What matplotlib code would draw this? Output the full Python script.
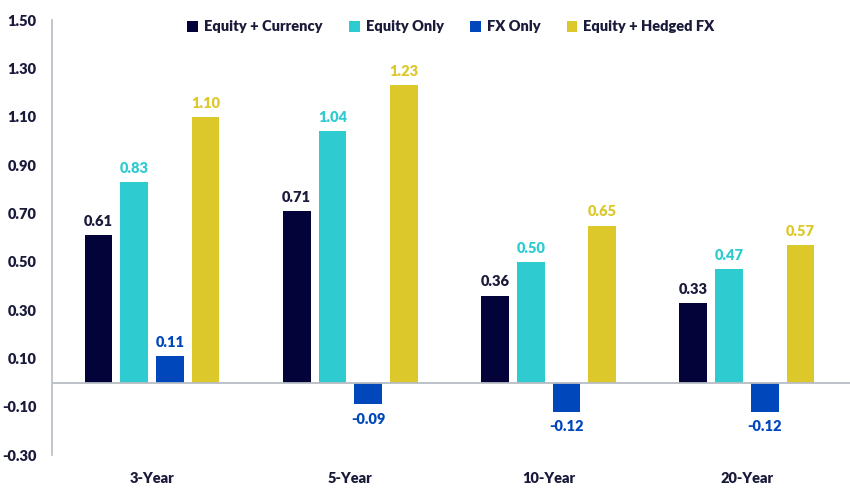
import numpy as np
import matplotlib.pyplot as plt

periods = ["3-Year", "5-Year", "10-Year", "20-Year"]
series_names = ["Equity + Currency", "Equity Only", "FX Only", "Equity + Hedged FX"]
equity_currency = [0.61, 0.71, 0.36, 0.33]
equity_only = [0.83, 1.04, 0.50, 0.47]
fx_only = [0.11, -0.09, -0.12, -0.12]
equity_hedged = [1.10, 1.23, 0.65, 0.57]
y_ticks = [-0.30, -0.10, 0.10, 0.30, 0.50, 0.70, 0.90, 1.10, 1.30, 1.50]

colors = ["#03033a", "#2ecbd1", "#0047bb", "#dcc82a"]
label_colors = ["#1a1a3a", "#2ecbd1", "#0047bb", "#dcc82a"]
text_color = "#1a1a3a"

plt.rcParams['font.family'] = ['Lato', 'DejaVu Sans']

fig = plt.figure(figsize=(8.5, 4.93), dpi=100)
ax = fig.add_axes([0.061, 0.077, 0.939, 0.882])

x = np.arange(len(periods))
width = 0.14
step = 0.18
all_series = [equity_currency, equity_only, fx_only, equity_hedged]
for i, vals in enumerate(all_series):
    pos = x + (i - 1.5) * step
    ax.bar(pos, vals, width, color=colors[i], label=series_names[i])
    for p, v in zip(pos, vals):
        if v >= 0:
            ax.text(p, v + 0.03, f"{v:.2f}", ha="center", va="bottom",
                    color=label_colors[i], fontsize=10.5, fontweight="heavy")
        else:
            ax.text(p, v - 0.035, f"{v:.2f}", ha="center", va="top",
                    color=label_colors[i], fontsize=10.5, fontweight="heavy")

ax.set_xlim(-0.505, 3.52)
ax.set_ylim(-0.30, 1.50)
ax.set_yticks(y_ticks)
ax.set_yticklabels([f"{t:.2f}" for t in y_ticks])
ax.set_xticks(x)
ax.set_xticklabels(periods)
ax.tick_params(axis="both", length=0, labelsize=10.5, colors=text_color)
ax.tick_params(axis="x", pad=12)
ax.tick_params(axis="y", pad=11)
for lab in ax.get_xticklabels() + ax.get_yticklabels():
    lab.set_fontweight("heavy")

ax.axhline(0, color="#b8bcc4", linewidth=1.3, zorder=3)
for s in ["top", "right", "bottom"]:
    ax.spines[s].set_visible(False)
ax.spines["left"].set_color("#b8bcc4")
ax.spines["left"].set_linewidth(1.2)

leg = ax.legend(loc="upper center", bbox_to_anchor=(0.5, 1.03), ncol=4,
                frameon=False, fontsize=10.5, handlelength=0.75, handleheight=0.75,
                handletextpad=0.4, columnspacing=1.8)
for t in leg.get_texts():
    t.set_color(text_color)
    t.set_fontweight("heavy")

fig.savefig("out.png", dpi=100)
